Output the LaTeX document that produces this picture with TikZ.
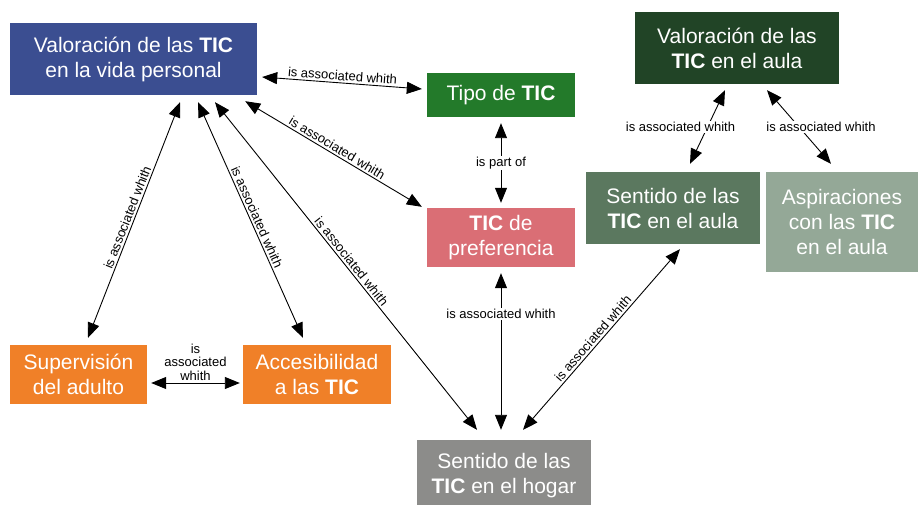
\documentclass[tikz,border=0pt]{standalone}
\usepackage{fontspec}
\setmainfont{Liberation Sans}
\usetikzlibrary{arrows.meta,positioning}

\definecolor{persblue}{RGB}{59,78,145}
\definecolor{tipogreen}{RGB}{35,122,42}
\definecolor{prefpink}{RGB}{218,110,117}
\definecolor{aulagreen}{RGB}{33,68,38}
\definecolor{sentgreen}{RGB}{91,120,95}
\definecolor{aspgreen}{RGB}{148,168,151}
\definecolor{adultorange}{RGB}{240,128,40}
\definecolor{hogargray}{RGB}{140,140,138}

\begin{document}
\begin{tikzpicture}[x=1pt,y=-1pt,
  box/.style={text=white,align=center,inner sep=0pt,font=\fontsize{21}{25}\selectfont},
  rel/.style={>={Triangle[length=15pt,width=12pt]},<->,line width=0.9pt},
  lbl/.style={font=\fontsize{13}{13.5}\selectfont,inner sep=2pt},
  cut/.style={lbl,fill=white,inner sep=1pt}]

\path[use as bounding box,fill=white] (0,0) rectangle (918,505);

% boxes
\node[box,fill=persblue,minimum width=247pt,minimum height=72pt] (vp) at (133.5,59) {Valoración de las \textbf{TIC}\\en la vida personal};
\node[box,fill=tipogreen,minimum width=148pt,minimum height=44pt] (tipo) at (501,95) {Tipo de \textbf{TIC}};
\node[box,fill=prefpink,minimum width=148pt,minimum height=59pt] (pref) at (501,237.5) {\textbf{TIC} de\\preferencia};
\node[box,fill=aulagreen,minimum width=204pt,minimum height=72pt] (va) at (737,48) {Valoración de las\\\textbf{TIC} en el aula};
\node[box,fill=sentgreen,minimum width=174pt,minimum height=72pt] (sa) at (673,208) {Sentido de las\\\textbf{TIC} en el aula};
\node[box,fill=aspgreen,minimum width=152pt,minimum height=100pt] (asp) at (842,222) {Aspiraciones\\con las \textbf{TIC}\\en el aula};
\node[box,fill=adultorange,minimum width=137pt,minimum height=59pt] (sup) at (78.5,374.5) {Supervisión\\del adulto};
\node[box,fill=adultorange,minimum width=148pt,minimum height=59pt] (acc) at (317,374.5) {Accesibilidad\\a las \textbf{TIC}};
\node[box,fill=hogargray,minimum width=174pt,minimum height=72pt] (hog) at (504,476) {Sentido de las\\\textbf{TIC} en el hogar};

% links from the personal box
\draw[rel] ([xshift=5pt,yshift=-18pt]vp.east) -- node[lbl,above,sloped] {is associated whith} ([xshift=-5pt,yshift=6pt]tipo.west);
\draw[rel] ([xshift=-12pt,yshift=-6pt]vp.south east) -- node[lbl,above,sloped] {is associated whith} ([xshift=-5pt,yshift=1pt]pref.north west);
\draw[rel] ([xshift=46.5pt,yshift=-7pt]vp.south) -- node[lbl,above,sloped] {is associated whith} ([xshift=9.5pt,yshift=7pt]sup.north);
\draw[rel] ([xshift=64.5pt,yshift=-7pt]vp.south) -- node[lbl,above,sloped] {is associated whith} ([xshift=-14pt,yshift=7pt]acc.north);
\draw[rel] ([xshift=81.5pt,yshift=-7pt]vp.south) -- node[lbl,above,sloped] {is associated whith} ([xshift=-27pt,yshift=10pt]hog.north);

\draw[rel] ([xshift=4pt,yshift=-8.5pt]sup.east) -- node[lbl,above,align=center] {is\\associated\\whith} ([xshift=-3pt,yshift=-8.5pt]acc.west);

% middle column
\draw[rel] ([yshift=-6pt]tipo.south) -- node[cut] {is part of} ([yshift=5pt]pref.north);
\draw[rel,shorten <=6pt,shorten >=10pt] (pref.south) -- node[cut,pos=0.27] {is associated whith} (pref.south |- hog.north);

% classroom side
\draw[rel] ([xshift=19pt,yshift=10pt]hog.north) -- node[lbl,above,sloped,pos=0.48] {is associated whith} ([xshift=7pt,yshift=-5pt]sa.south);
\draw[rel] ([xshift=-12pt,yshift=-6pt]va.south) -- node[cut,xshift=-27pt] {is associated whith} ([xshift=17pt,yshift=8pt]sa.north);
\draw[rel] ([xshift=30pt,yshift=-6pt]va.south) -- node[cut,xshift=22pt] {is associated whith} ([xshift=-11pt,yshift=8pt]asp.north);

\end{tikzpicture}
\end{document}
